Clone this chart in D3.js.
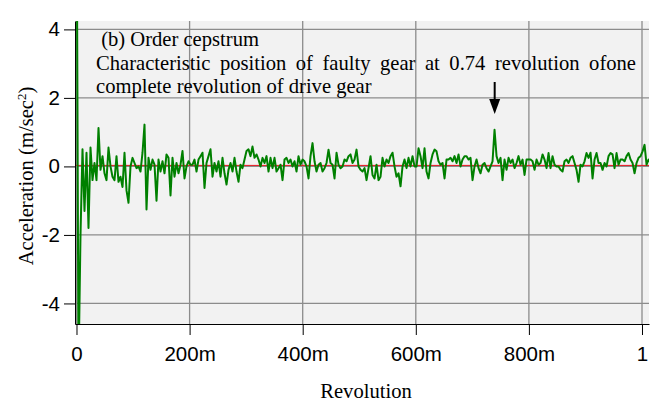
<!DOCTYPE html>
<html lang='en'>
	<head>
		<meta charset='utf-8'>
		<title>Order cepstrum</title>
		<script type='text/javascript' src='https://cdn.jsdelivr.net/npm/d3@7/dist/d3.min.js'></script>
		<style>
			body { margin: 0; background: white; }
			.tick text { font-family: 'Liberation Sans', Arial, sans-serif; font-size: 20.5px; fill: #000; }
			.tick line, .domain { stroke: #000; }
			.grid line { stroke: #8c8c8c; stroke-width: 1.3px; }
			.note { font-family: 'Liberation Serif', 'Times New Roman', serif; font-size: 20.6px; fill: #000; }
		</style>
	</head>
	<body>
		<script type='text/javascript'>
			var width = 659;
			var height = 405;
			var margin = {top: 21, right: 10, bottom: 81, left: 75};

			// x axis (revolution)
			var xTickValues = [0, 0.2, 0.4, 0.6, 0.8, 1];
			var xTickLabels = ['0', '200m', '400m', '600m', '800m', '1'];
			var yTickValues = [-4, -2, 0, 2, 4];
			var yTickLabels = ['-4', '-2', '0', '2', '4'];

			// order cepstrum, sampled every revStep revolutions from 0
			var revStep = 0.003537;
			var accel = [
				9, -6, -2.0, 0.5, -1.3, 0.4, -1.8, 0.55, -0.4, 0.1,
				-0.4, 1.12, -0.1, 0.3, -0.2, -0.4, 0.55, 0.0, -0.3, -0.4,
				0.3, -0.45, -0.3, -0.6, 0.4, -0.7, -1.06, 0.0, 0.25, 0.1,
				-0.05, 0.0, -0.15, 0.4, 1.22, -1.26, 0.25, -0.1, 0.2, 0.05,
				-1.0, 0.2, -0.15, 0.15, -0.2, 0.35, 0.25, -0.85, 0.25, -0.3,
				0.1, -0.2, 0.05, 0.45, -0.35, 0.0, 0.15, 0.05, 0.05, 0.2,
				-0.15, 0.2, 0.3, 0.4, -0.63, 0.1, 0.3, 0.5, -0.3, 0.1,
				-0.15, 0.15, -0.3, 0.25, -0.2, -0.53, -0.1, 0.1, -0.15, 0.25,
				-0.15, -0.45, 0.05, -0.05, 0.2, 0.45, 0.5, 0.3, 0.58, 0.25,
				0.35, 0.2, 0.0, 0.25, 0.1, 0.3, -0.15, 0.25, -0.05, 0.25,
				-0.15, -0.05, 0.05, -0.4, 0.2, 0.25, 0.1, 0.2, 0.0, 0.15,
				-0.15, 0.3, 0.05, 0.2, 0.15, 0.0, -0.35, 0.3, 0.68, 0.15,
				-0.15, 0.05, 0.1, -0.15, -0.05, 0.1, 0.49, 0.1, 0.05, -0.35,
				0.4, 0.05, -0.05, 0.0, 0.2, 0.15, 0.3, 0.35, 0.1, 0.2,
				0.49, 0.0, -0.1, -0.15, -0.05, -0.4, -0.05, 0.3, -0.25, -0.35,
				0.05, -0.4, -0.3, 0.25, 0.0, 0.2, 0.1, 0.3, 0.4, 0.0,
				-0.3, -0.2, -0.58, 0.0, 0.2, -0.05, 0.25, 0.0, 0.3, 0.0,
				0.0, 0.53, 0.3, -0.05, 0.53, -0.15, -0.35, 0.1, 0.35, 0.49,
				0.44, 0.15, 0.05, 0.1, -0.35, 0.2, 0.2, 0.25, 0.15, 0.3,
				0.1, 0.35, 0.0, 0.2, 0.3, 0.3, 0.2, 0.25, -0.4, 0.0,
				0.2, -0.05, -0.2, 0.05, 0.1, -0.05, -0.15, 0.0, 0.15, 1.07,
				0.3, 0.1, 0.25, -0.4, 0.2, -0.1, 0.25, 0.1, 0.2, -0.05,
				0.1, 0.3, 0.05, 0.2, -0.25, 0.2, 0.2, 0.2, 0.15, -0.1,
				0.2, 0.05, 0.1, 0.35, 0.2, -0.05, 0.39, -0.05, 0.3, 0.05,
				0.0, 0.0, -0.1, -0.15, 0.15, 0.2, 0.1, 0.25, 0.3, 0.1,
				-0.1, -0.45, 0.05, 0.0, 0.15, 0.39, 0.25, 0.4, -0.35, 0.2,
				0.39, 0.1, 0.1, -0.1, 0.1, 0.0, 0.3, 0.39, 0.35, -0.05,
				0.39, 0.05, 0.2, 0.2, 0.15, 0.3, 0.39, 0.2, 0.1, -0.2,
				0.1, 0.25, 0.3, 0.44, 0.63, 0.05, 0.2, 0.1
			];
			var meanLevel = 0.03;
			var faultRev = 0.7395;

			var noteLines = [
				' (b) Order cepstrum',
				'Characteristic position of faulty gear at 0.74 revolution ofone',
				'complete revolution of drive gear'
			];

			var pw = width - margin.left - margin.right;
			var ph = height - margin.top - margin.bottom;

			var x = d3.scaleLinear().domain([-0.00265, 1.01238]).range([0, pw]);
			var y = d3.scaleLinear().domain([-4.60, 4.245]).range([ph, 0]);

			var svg = d3.select('body').append('svg')
				.attr('width', width)
				.attr('height', height);

			var g = svg.append('g')
				.attr('transform', 'translate(' + margin.left + ',' + margin.top + ')');

			g.append('rect')
				.attr('width', pw)
				.attr('height', ph)
				.attr('fill', '#f2f2f2');

			g.append('clipPath').attr('id', 'clip')
				.append('rect').attr('width', pw).attr('height', ph);

			// grid
			var grid = g.append('g').attr('class', 'grid');
			grid.selectAll('line.v')
				.data(xTickValues)
				.enter().append('line')
					.attr('class', 'v')
					.attr('x1', function(d) { return x(d); })
					.attr('x2', function(d) { return x(d); })
					.attr('y1', 0)
					.attr('y2', ph);
			grid.selectAll('line.h')
				.data(yTickValues)
				.enter().append('line')
					.attr('class', 'h')
					.attr('x1', 0)
					.attr('x2', pw)
					.attr('y1', function(d) { return y(d); })
					.attr('y2', function(d) { return y(d); });

			// mean line
			g.append('line')
				.attr('x1', 0)
				.attr('x2', pw)
				.attr('y1', y(meanLevel))
				.attr('y2', y(meanLevel))
				.attr('stroke', '#e8141c')
				.attr('stroke-width', 1);

			var line = d3.line()
				.x(function(d, i) { return x(i * revStep); })
				.y(function(d) { return y(d); });

			g.append('path')
				.datum(accel)
				.attr('clip-path', 'url(#clip)')
				.attr('d', line)
				.attr('fill', 'none')
				.attr('stroke', '#008000')
				.attr('stroke-width', 2)
				.attr('stroke-linejoin', 'round');

			// axes
			g.append('g')
				.attr('transform', 'translate(0,' + ph + ')')
				.call(d3.axisBottom(x)
					.tickValues(xTickValues)
					.tickFormat(function(d, i) { return xTickLabels[i]; })
					.tickSize(11)
					.tickSizeOuter(0)
					.tickPadding(11));

			g.append('g')
				.call(d3.axisLeft(y)
					.tickValues(yTickValues)
					.tickFormat(function(d, i) { return yTickLabels[i]; })
					.tickSize(11)
					.tickSizeOuter(0)
					.tickPadding(4));

			// annotation
			g.append('text').attr('class', 'note')
				.attr('x', 96 - margin.left).attr('y', 46 - margin.top)
				.attr('xml:space', 'preserve')
				.text(noteLines[0]);
			var l2 = g.append('text').attr('class', 'note')
				.attr('x', 96 - margin.left).attr('y', 69.5 - margin.top)
				.text(noteLines[1]);
			var spaces = noteLines[1].split(' ').length - 1;
			var extra = (636 - 96 - l2.node().getComputedTextLength()) / spaces;
			l2.attr('word-spacing', extra);
			g.append('text').attr('class', 'note')
				.attr('x', 96 - margin.left).attr('y', 93 - margin.top)
				.text(noteLines[2]);

			// arrow to the faulty gear peak
			g.append('line')
				.attr('x1', x(faultRev)).attr('x2', x(faultRev))
				.attr('y1', 82 - margin.top).attr('y2', 101 - margin.top)
				.attr('stroke', '#000').attr('stroke-width', 2);
			g.append('path')
				.attr('d', 'M' + (x(faultRev) - 5.5) + ',' + (99 - margin.top) +
					'L' + (x(faultRev) + 5.5) + ',' + (99 - margin.top) +
					'L' + x(faultRev) + ',' + (114 - margin.top) + 'Z')
				.attr('fill', '#000');

			// axis titles
			var yt = svg.append('text').attr('class', 'note')
				.attr('transform', 'translate(33,176) rotate(-90)')
				.attr('text-anchor', 'middle');
			yt.append('tspan').text('Acceleration (m/sec');
			yt.append('tspan').attr('baseline-shift', 'super').attr('font-size', '13px').text('2');
			yt.append('tspan').text(')');

			svg.append('text').attr('class', 'note')
				.attr('x', 366).attr('y', 398)
				.attr('text-anchor', 'middle')
				.text('Revolution');
		</script>
	</body>
</html>
